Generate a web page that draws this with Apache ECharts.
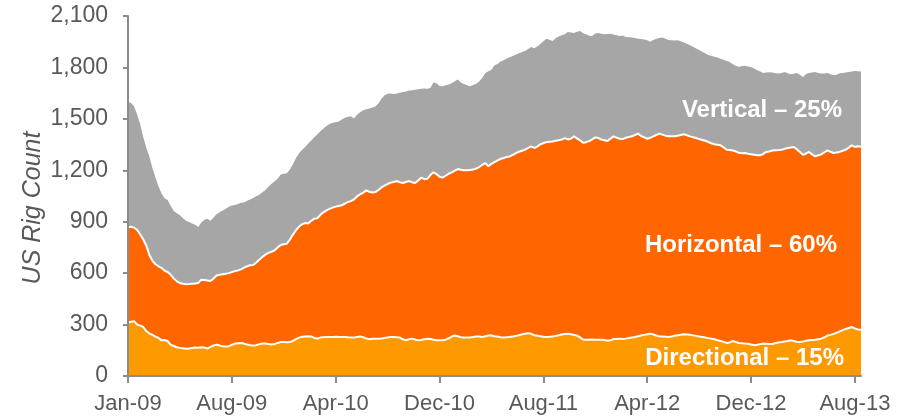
<!DOCTYPE html>
<html>
<head>
<meta charset="utf-8">
<title>US Rig Count</title>
<script src="https://cdn.jsdelivr.net/npm/echarts@6.0.0/dist/echarts.min.js"></script>
<style>
  html, body { margin: 0; padding: 0; background: #fff; }
  #chart { width: 904px; height: 419px; }
</style>
</head>
<body>
<div id="chart"></div>
<script>
// weekly US rig count by trajectory, Jan-09 .. Aug-13
var tickLabels = ['Jan-09', 'Aug-09', 'Apr-10', 'Dec-10', 'Aug-11', 'Apr-12', 'Dec-12', 'Aug-13'];
var weeksPerLabel = 34;

var directional = [
	312, 316, 320, 300, 294, 286, 262, 248, 240, 230,
	222, 208, 210, 204, 182, 175, 168, 164, 162, 159,
	160, 164, 166, 165, 168, 166, 160, 170, 178, 183,
	178, 173, 172, 174, 182, 189, 191, 192, 189, 184,
	180, 178, 180, 186, 190, 190, 186, 184, 186, 193,
	198, 198, 197, 198, 205, 215, 224, 229, 231, 232,
	231, 222, 219, 224, 226, 228, 228, 227, 229, 228,
	227, 228, 226, 225, 224, 228, 231, 226, 219, 215,
	217, 218, 218, 219, 222, 225, 227, 228, 226, 224,
	214, 209, 214, 218, 213, 208, 210, 214, 217, 216,
	212, 208, 208, 208, 212, 220, 230, 236, 232, 226,
	224, 224, 224, 228, 231, 230, 228, 232, 236, 237,
	232, 230, 226, 224, 226, 228, 230, 234, 238, 243,
	247, 250, 246, 238, 235, 232, 229, 228, 229, 231,
	234, 238, 242, 245, 247, 244, 240, 236, 225, 213,
	212, 212, 213, 212, 211, 212, 210, 206, 208, 216,
	216, 218, 216, 218, 222, 225, 228, 232, 236, 240,
	244, 247, 242, 236, 231, 230, 229, 228, 231, 235,
	238, 240, 243, 242, 240, 237, 234, 231, 228, 225,
	221, 218, 214, 209, 204, 199, 193, 196, 204, 198,
	193, 191, 189, 188, 184, 180, 182, 186, 189, 188,
	186, 187, 192, 196, 198, 201, 204, 208, 204, 200,
	198, 201, 205, 208, 210, 212, 215, 218, 226, 236,
	240, 246, 252, 260, 268, 275, 280, 286, 278, 271,
	270
];

var horizontal = [
	556, 554, 546, 552, 532, 510, 498, 458, 432, 422,
	418, 422, 404, 402, 408, 393, 384, 378, 376, 376,
	376, 374, 374, 377, 394, 394, 397, 384, 390, 403,
	412, 420, 424, 426, 424, 423, 425, 430, 443, 456,
	466, 470, 482, 492, 505, 518, 532, 541, 547, 557,
	566, 570, 575, 597, 620, 635, 648, 656, 661, 657,
	674, 696, 701, 716, 729, 738, 747, 755, 759, 764,
	769, 777, 789, 795, 806, 820, 829, 844, 864, 860,
	853, 855, 867, 881, 888, 895, 901, 904, 911, 906,
	912, 923, 923, 912, 913, 932, 947, 934, 933, 956,
	976, 970, 954, 949, 956, 960, 958, 962, 975, 977,
	976, 976, 978, 976, 979, 989, 1004, 1010, 987, 1001,
	1016, 1028, 1040, 1048, 1051, 1053, 1060, 1066, 1070, 1071,
	1073, 1080, 1094, 1092, 1103, 1120, 1129, 1136, 1137, 1137,
	1138, 1137, 1137, 1143, 1133, 1140, 1158, 1150, 1150, 1147,
	1152, 1158, 1167, 1180, 1177, 1167, 1165, 1165, 1177, 1182,
	1174, 1166, 1166, 1172, 1172, 1173, 1178, 1182, 1164, 1152,
	1140, 1143, 1156, 1170, 1183, 1178, 1173, 1170, 1167, 1163,
	1164, 1166, 1167, 1162, 1158, 1156, 1154, 1151, 1149, 1147,
	1144, 1140, 1138, 1140, 1142, 1135, 1127, 1122, 1112, 1112,
	1109, 1109, 1112, 1109, 1110, 1111, 1106, 1101, 1107, 1119,
	1124, 1128, 1125, 1122, 1122, 1124, 1126, 1125, 1132, 1122,
	1109, 1089, 1093, 1099, 1083, 1069, 1072, 1075, 1078, 1080,
	1068, 1055, 1052, 1047, 1046, 1045, 1052, 1060, 1058, 1069,
	1068
];

var vertical = [
	732, 722, 706, 673, 642, 596, 570, 574, 540, 506,
	465, 435, 422, 420, 402, 394, 398, 395, 382, 370,
	362, 352, 342, 327, 333, 352, 361, 351, 357, 357,
	365, 372, 379, 388, 388, 385, 388, 388, 380, 382,
	383, 390, 386, 380, 377, 377, 387, 397, 403, 400,
	411, 412, 410, 410, 410, 422, 428, 435, 444, 467,
	469, 474, 490, 488, 489, 492, 495, 496, 492, 492,
	500, 501, 497, 495, 472, 476, 478, 480, 473, 485,
	496, 499, 505, 518, 528, 526, 520, 513, 511, 522,
	530, 528, 528, 537, 544, 532, 518, 529, 525, 508,
	524, 530, 530, 533, 528, 521, 520, 522, 522, 509,
	503, 496, 488, 494, 495, 499, 508, 526, 555, 548,
	564, 562, 568, 570, 575, 579, 576, 576, 574, 576,
	576, 578, 579, 582, 584, 584, 594, 604, 596, 586,
	598, 606, 609, 605, 627, 620, 603, 622, 638, 640,
	629, 615, 604, 606, 613, 617, 618, 624, 612, 594,
	597, 599, 604, 588, 582, 576, 565, 554, 566, 571,
	574, 560, 562, 562, 558, 566, 566, 562, 560, 559,
	556, 546, 536, 534, 531, 527, 522, 520, 515, 510,
	507, 510, 511, 509, 504, 511, 518, 514, 502, 500,
	501, 508, 509, 508, 508, 503, 496, 489, 472, 463,
	462, 455, 449, 446, 448, 448, 436, 427, 427, 445,
	451, 454, 464, 460, 477, 492, 481, 471, 461, 451,
	452, 453, 454, 459, 454, 451, 441, 430, 443, 437,
	438
];

var seriesNames = ['Directional', 'Horizontal', 'Vertical'];
var shareLabels = ['Vertical – 25%', 'Horizontal – 60%', 'Directional – 15%'];

var weeks = [];
for (var i = 0; i < directional.length; i++) {
	weeks.push(i);
}

function onLabelWeek(idx) {
	return idx % weeksPerLabel === 0;
}

var font = '"Liberation Sans", Arial, sans-serif';
var axisGray = '#8c8c8c';

var option = {
	animation: false,
	backgroundColor: '#fff',
	grid: {
		left: 128,
		right: 43,
		top: 16,
		bottom: 43
	},
	xAxis: {
		type: 'category',
		boundaryGap: false,
		data: weeks,
		z: 10,
		axisLine: { lineStyle: { color: axisGray, width: 2 } },
		axisTick: { interval: onLabelWeek, length: 7, lineStyle: { color: axisGray, width: 2 } },
		axisLabel: {
			interval: onLabelWeek,
			margin: 17,
			color: '#595959',
			fontFamily: font,
			fontSize: 22,
			formatter: function (val, idx) {
				return tickLabels[idx / weeksPerLabel] || '';
			}
		},
		splitLine: { show: false }
	},
	yAxis: {
		type: 'value',
		min: 0,
		max: 2100,
		interval: 300,
		z: 10,
		name: 'US Rig Count',
		nameLocation: 'middle',
		nameRotate: 90,
		nameGap: 82,
		nameMoveOverlap: false,
		nameTextStyle: {
			color: '#595959',
			fontFamily: font,
			fontSize: 25,
			fontStyle: 'italic',
			padding: [0, 24, 0, 0]
		},
		axisLine: { show: true, lineStyle: { color: axisGray, width: 2 } },
		axisTick: { show: true, length: 5, lineStyle: { color: axisGray, width: 2 } },
		axisLabel: {
			margin: 20,
			color: '#595959',
			fontFamily: font,
			fontSize: 23,
			formatter: function (v) {
				return String(v).replace(/\B(?=(\d{3})+(?!\d))/g, ',');
			}
		},
		splitLine: { show: false }
	},
	series: [{
		name: seriesNames[0],
		type: 'line',
		stack: 'rigs',
		z: 5,
		symbol: 'none',
		data: directional,
		lineStyle: { color: '#fff', width: 2 },
		areaStyle: { color: '#FF9900', opacity: 1 }
	}, {
		name: seriesNames[1],
		type: 'line',
		stack: 'rigs',
		z: 4,
		symbol: 'none',
		data: horizontal,
		lineStyle: { color: '#fff', width: 2 },
		areaStyle: { color: '#FF6600', opacity: 1 }
	}, {
		name: seriesNames[2],
		type: 'line',
		stack: 'rigs',
		z: 3,
		symbol: 'none',
		data: vertical,
		lineStyle: { width: 0 },
		areaStyle: { color: '#A6A6A6', opacity: 1 }
	}],
	graphic: [{
		type: 'text',
		x: 842,
		y: 110,
		z: 20,
		style: { text: shareLabels[0], fill: '#fff', align: 'right', verticalAlign: 'middle', font: 'bold 24px ' + font }
	}, {
		type: 'text',
		x: 837,
		y: 245,
		z: 20,
		style: { text: shareLabels[1], fill: '#fff', align: 'right', verticalAlign: 'middle', font: 'bold 24px ' + font }
	}, {
		type: 'text',
		x: 844,
		y: 358,
		z: 20,
		style: { text: shareLabels[2], fill: '#fff', align: 'right', verticalAlign: 'middle', font: 'bold 24px ' + font }
	}]
};

var myChart = echarts.init(document.getElementById('chart'));
myChart.setOption(option);
</script>
</body>
</html>
